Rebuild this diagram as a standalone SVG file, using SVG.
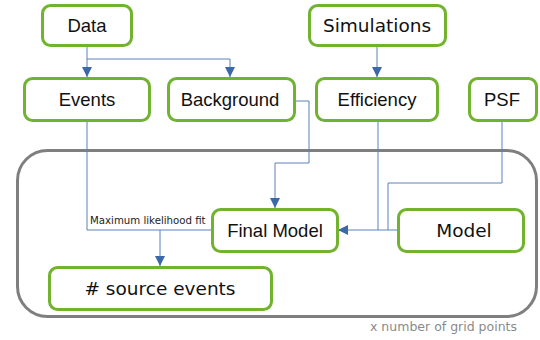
<svg xmlns="http://www.w3.org/2000/svg" width="540" height="340" viewBox="0 0 540 340">
<defs>
<style>
.node{fill:#fff;stroke:#71b32f;stroke-width:3}
.a{font-family:"Liberation Sans",Arial,sans-serif;font-size:18.5px;fill:#111;text-anchor:middle}
.d{font-family:"DejaVu Sans",Verdana,sans-serif;font-size:18.5px;fill:#111;text-anchor:middle}
.c{fill:none;stroke:#5b82bb;stroke-width:1}
.lbl{font-family:"DejaVu Sans",Verdana,sans-serif;font-size:10.2px;fill:#222}
.note{font-family:"DejaVu Sans",Verdana,sans-serif;font-size:12.5px;fill:#8a8a8a}
</style>
<marker id="arr" viewBox="0 0 10 10" refX="10" refY="5" markerWidth="10" markerHeight="10" markerUnits="userSpaceOnUse" orient="auto">
<path d="M0,0 L10,5 L0,10 z" fill="#3b68a9"/>
</marker>
</defs>
<rect width="540" height="340" fill="#fff"/>
<g id="container">
<rect x="17.5" y="150.5" width="519" height="166" rx="30" fill="none" stroke="#7f7f7f" stroke-width="3"/>
<text class="note" x="370" y="331">x number of grid points</text>
</g>
<g id="connectors">
<path class="c" d="M87,46 V77" marker-end="url(#arr)"/>
<path class="c" d="M87,59 H230 V77" marker-end="url(#arr)"/>
<path class="c" d="M377,46 V77" marker-end="url(#arr)"/>
<path class="c" d="M295,101 H309 V163 H275 V208" marker-end="url(#arr)"/>
<path class="c" d="M87,121 V230 H211"/>
<path class="c" d="M160,230 V266" marker-end="url(#arr)"/>
<path class="c" d="M378,121 V230"/>
<path class="c" d="M502,121 V183 H388 V230"/>
<path class="c" d="M397,230 H338" marker-end="url(#arr)"/>
<text class="lbl" x="90" y="224">Maximum likelihood fit</text>
</g>
<g id="data"><rect class="node" x="42.5" y="5.5" width="89" height="40" rx="8"/><text class="a" x="87" y="32">Data</text></g>
<g id="simulations"><rect class="node" x="309.5" y="5.5" width="136" height="40" rx="8"/><text class="d" x="377" y="32">Simulations</text></g>
<g id="events"><rect class="node" x="24.5" y="78.5" width="125" height="42" rx="8"/><text class="a" x="87" y="106">Events</text></g>
<g id="background"><rect class="node" x="168.5" y="78.5" width="126" height="42" rx="8"/><text class="a" x="230" y="106">Background</text></g>
<g id="efficiency"><rect class="node" x="316.5" y="78.5" width="121" height="42" rx="8"/><text class="a" x="377" y="106">Efficiency</text></g>
<g id="psf"><rect class="node" x="469.5" y="78.5" width="67" height="42" rx="8"/><text class="a" x="502" y="106">PSF</text></g>
<g id="finalmodel"><rect class="node" x="212.5" y="209.5" width="125" height="42" rx="8"/><text class="a" x="275" y="237">Final Model</text></g>
<g id="model"><rect class="node" x="398.5" y="209.5" width="125" height="42" rx="8"/><text class="d" x="464" y="237">Model</text></g>
<g id="sourceevents"><rect class="node" x="49.5" y="267.5" width="222" height="42" rx="8"/><text class="d" x="160" y="295">&#35; source events</text></g>
</svg>
